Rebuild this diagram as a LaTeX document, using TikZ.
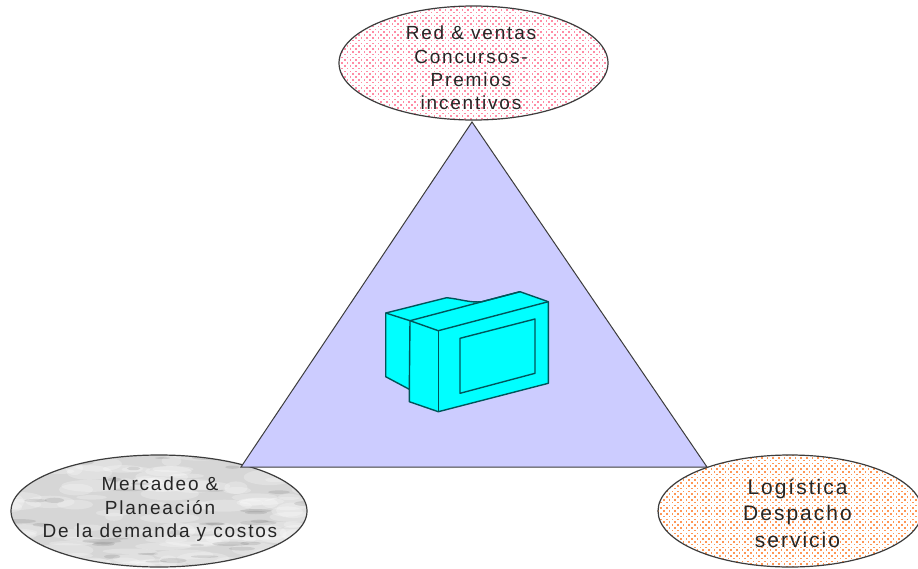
\documentclass[tikz,border=0pt]{standalone}
\usepackage{fontspec}
\setmainfont[LetterSpace=9.5]{Liberation Sans}
\usetikzlibrary{shapes.geometric,calc}
\definecolor{tri}{RGB}{204,204,255}
\definecolor{cy}{RGB}{0,255,255}
\definecolor{ln}{RGB}{60,60,60}
\definecolor{dotred}{RGB}{255,140,165}
\definecolor{dotor}{RGB}{255,150,85}
\definecolor{monln}{RGB}{0,85,90}
\tikzset{
 oval/.style={ellipse,draw=ln,line width=1.2pt,inner sep=0pt,fill=white},
 lab/.style={align=center,text=black!85,inner sep=0pt},
 dotted fill/.style={path picture={
  \begin{scope}[shift={(path picture bounding box.center)}]
   \foreach \i in {-25,...,25}{\foreach \j in {-21,...,21}{
     \pgfmathsetmacro{\xx}{\i*5.6+2.8*mod(\j+21,2)}
     \pgfmathsetmacro{\yy}{\j*2.8}
     \fill[fill=#1] (\xx-.8,\yy-.8) rectangle +(1.6,1.6);
   }}
  \end{scope}}},
 marble/.style={path picture={
  \begin{scope}[shift={(path picture bounding box.center)}]
   \fill[black!16] (-160,-70) rectangle (160,70);
   \pgfmathsetseed{23}
   \foreach \k in {1,...,110}{
     \pgfmathsetmacro{\px}{rnd*300-150}
     \pgfmathsetmacro{\py}{rnd*116-58}
     \pgfmathsetmacro{\sx}{8+rnd*22}
     \pgfmathsetmacro{\sy}{2+rnd*6}
     \pgfmathsetmacro{\rr}{-55+rnd*110}
     \fill[white,opacity=.25,rotate around={\rr:(\px,\py)}] (\px,\py) ellipse [x radius=\sx,y radius=\sy];
   }
   \foreach \k in {1,...,45}{
     \pgfmathsetmacro{\px}{rnd*300-150}
     \pgfmathsetmacro{\py}{rnd*116-58}
     \pgfmathsetmacro{\sx}{6+rnd*14}
     \pgfmathsetmacro{\sy}{.8+rnd*2}
     \pgfmathsetmacro{\rr}{-30+rnd*60}
     \fill[black,opacity=.09,rotate around={\rr:(\px,\py)}] (\px,\py) ellipse [x radius=\sx,y radius=\sy];
   }
  \end{scope}}},
 mon/.style={draw=monln,line width=1.4pt,fill=cy,line join=round},
 monline/.style={draw=monln,line width=1.4pt,line join=round},
}
\begin{document}
\begin{tikzpicture}[x=1pt,y=-1pt]
\useasboundingbox (0,0) rectangle (918,568);
\fill[white] (0,0) rectangle (918,568);
% ellipses
\node[oval,minimum width=269pt,minimum height=114pt,dotted fill=dotred] (top) at (473.5,63) {};
\node[oval,minimum width=296pt,minimum height=112pt,marble] (left) at (159,511) {};
\node[oval,minimum width=264pt,minimum height=112pt,dotted fill=dotor] (right) at (790,511) {};
% triangle
\coordinate (ta) at (472,122);
\coordinate (tl) at (241,467);
\coordinate (tr) at (707,467);
\draw[fill=tri,draw=ln,line width=1pt,line join=miter] (ta) -- (tl) -- (tr) -- cycle;
% labels
\node[lab,font=\fontsize{19}{23.3}\selectfont] (ttop) at (471,68) {Red \& ventas\\Concursos-\\Premios\\incentivos};
\node[lab,font=\fontsize{19}{23.5}\selectfont] (tleft) at (160,509.5) {Mercadeo \&\\Planeación\\De la demanda y costos};
\node[lab,font=\fontsize{21}{26.5}\selectfont] (tright) at (797.5,513) {Logística\\Despacho\\servicio};
% monitor
\draw[mon] (385.7,313) -- (446.7,297.7) .. controls (460,299) and (470,303) .. (481.7,301.7) -- (520,291.7) -- (548.3,301.7) -- (548.3,383.3) -- (438.3,411.7) -- (409.3,401.7) -- (409.3,389.3) -- (385.7,376.7) -- cycle;
\draw[monline] (410,320.7) -- (385.7,313);
\draw[monline] (409.3,389.3) -- (410,320.7) -- (520,291.7);
\draw[monline] (410,320.7) -- (438.3,330.7) -- (548.3,301.7);
\draw[monline] (438.3,330.7) -- (438.3,411.7);
\draw[mon] (460,338.3) -- (535,319) -- (535,373.3) -- (460,393.3) -- cycle;
\end{tikzpicture}
\end{document}
